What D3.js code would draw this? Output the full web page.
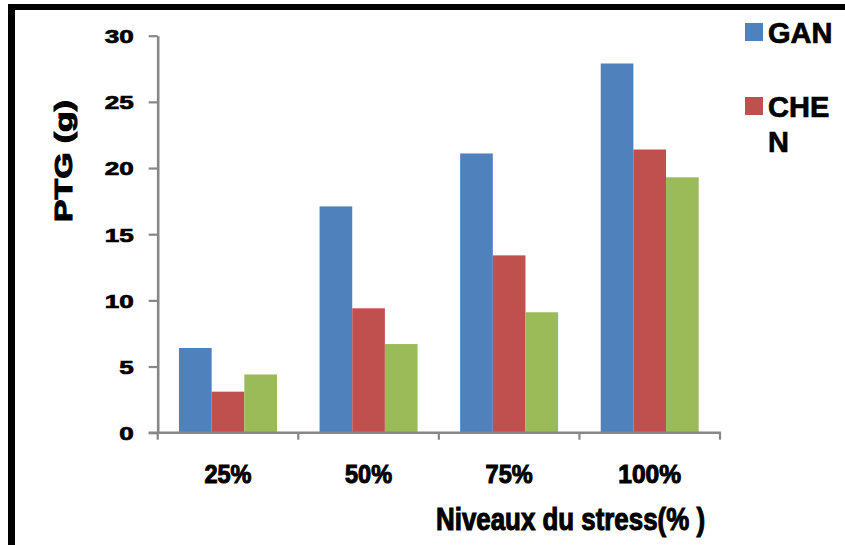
<!DOCTYPE html>
<html>
<head>
<meta charset="utf-8">
<script src="https://cdn.jsdelivr.net/npm/d3@7"></script>
<style>
  html, body { margin: 0; padding: 0; background: #fff; }
  svg { display: block; }
  text { font-family: "Liberation Sans", Arial, sans-serif; font-weight: bold; fill: #000; stroke: #000; stroke-width: 0.7px; }
</style>
</head>
<body>
<svg id="chart" width="845" height="545"></svg>
<script>
// Stress levels on the x axis
const categories = ["25%", "50%", "75%", "100%"];
// Series shown in the legend (legend text wraps like the original layout)
const seriesNames = ["GAN", "CHEN", "S3"];
const legendLines = [["GAN"], ["CHE", "N"]];
// PTG (g) per stress level
const ganValues  = [6.4, 17.1, 21.1, 27.9];
const chenValues = [3.1, 9.4, 13.4, 21.4];
const thirdValues = [4.4, 6.7, 9.1, 19.3];
const yTicks = [0, 5, 10, 15, 20, 25, 30];
const colors = ["#4F81BD", "#C0504D", "#9BBB59"];

const allValues = [ganValues, chenValues, thirdValues];

const svg = d3.select("#chart");

// outer frame (top and left black rules)
svg.append("rect").attr("x", 8).attr("y", 4).attr("width", 837).attr("height", 6).attr("fill", "#000");
svg.append("rect").attr("x", 8).attr("y", 4).attr("width", 7).attr("height", 541).attr("fill", "#000");

const plotLeft = 157.7, plotRight = 720, plotTop = 35.7, plotBottom = 432.7;

const y = d3.scaleLinear().domain([0, 30]).range([plotBottom, plotTop]);
const x = d3.scaleBand().domain(categories).range([plotLeft, plotRight]).paddingInner(0).paddingOuter(0);
const groupPad = 21.3;
const xs = d3.scaleBand().domain(d3.range(seriesNames.length))
  .range([groupPad, x.bandwidth() - groupPad]).paddingInner(0).paddingOuter(0);

// bars
const groups = svg.append("g").selectAll("g")
  .data(categories).join("g")
  .attr("transform", d => `translate(${x(d)},0)`);

groups.selectAll("rect")
  .data((c, ci) => allValues.map((vals, si) => ({ si, v: vals[ci] })))
  .join("rect")
  .attr("x", d => xs(d.si))
  .attr("width", xs.bandwidth())
  .attr("y", d => y(d.v))
  .attr("height", d => y(0) - y(d.v))
  .attr("fill", d => colors[d.si]);

const axisColor = "#878787";

// y axis
const yAxis = svg.append("g")
  .attr("transform", `translate(${plotLeft},0)`)
  .call(d3.axisLeft(y).tickValues(yTicks).tickSize(9).tickPadding(15).tickSizeOuter(0));
yAxis.select(".domain").attr("stroke", axisColor).attr("stroke-width", 2.6);
yAxis.selectAll(".tick line").attr("stroke", axisColor).attr("stroke-width", 2.2);
yAxis.selectAll(".tick text")
  .attr("font-size", 19)
  .attr("font-family", "Liberation Sans, Arial, sans-serif")
  .attr("font-weight", "bold")
  .attr("fill", "#000")
  .attr("stroke", "#000")
  .attr("stroke-width", 1)
  .attr("dy", "0.36em")
  .attr("textLength", d => String(d).length * 14.5)
  .attr("lengthAdjust", "spacingAndGlyphs");

// x axis: line with ticks at category boundaries
const xAxisG = svg.append("g");
xAxisG.append("line")
  .attr("x1", plotLeft - 9).attr("x2", plotRight + 1)
  .attr("y1", plotBottom).attr("y2", plotBottom)
  .attr("stroke", axisColor).attr("stroke-width", 2.6);
const boundaries = categories.map(c => x(c)).concat([x(categories[categories.length - 1]) + x.bandwidth()]);
xAxisG.selectAll("line.tick")
  .data(boundaries).join("line")
  .attr("class", "tick")
  .attr("x1", d => d).attr("x2", d => d)
  .attr("y1", plotBottom).attr("y2", plotBottom + 7)
  .attr("stroke", axisColor).attr("stroke-width", 2.2);

// category labels
svg.append("g").selectAll("text")
  .data(categories).join("text")
  .attr("x", d => x(d) + x.bandwidth() / 2)
  .attr("y", 483)
  .attr("text-anchor", "middle")
  .attr("font-size", 25)
  .style("stroke-width", "1px")
  .attr("textLength", d => d.length * 15.7)
  .attr("lengthAdjust", "spacingAndGlyphs")
  .text(d => d);

// axis titles
svg.append("text")
  .attr("x", 436).attr("y", 530)
  .attr("font-size", 32)
  .style("stroke-width", "1.1px")
  .attr("textLength", 269)
  .attr("lengthAdjust", "spacingAndGlyphs")
  .text("Niveaux du stress(% )");

svg.append("text")
  .attr("transform", "translate(72,222) rotate(-90)")
  .attr("font-size", 24)
  .style("stroke-width", "1px")
  .attr("textLength", 122)
  .attr("lengthAdjust", "spacingAndGlyphs")
  .text("PTG (g)");

// legend
const legendTops = [23, 97];
const legend = svg.append("g");
legendLines.forEach((lines, i) => {
  legend.append("rect")
    .attr("x", 745).attr("y", legendTops[i])
    .attr("width", 18).attr("height", 18)
    .attr("fill", colors[i]);
  lines.forEach((t, j) => {
    legend.append("text")
      .attr("x", 768)
      .attr("y", legendTops[i] + 20 + j * 35)
      .attr("font-size", 29)
      .text(t);
  });
});
</script>
</body>
</html>
